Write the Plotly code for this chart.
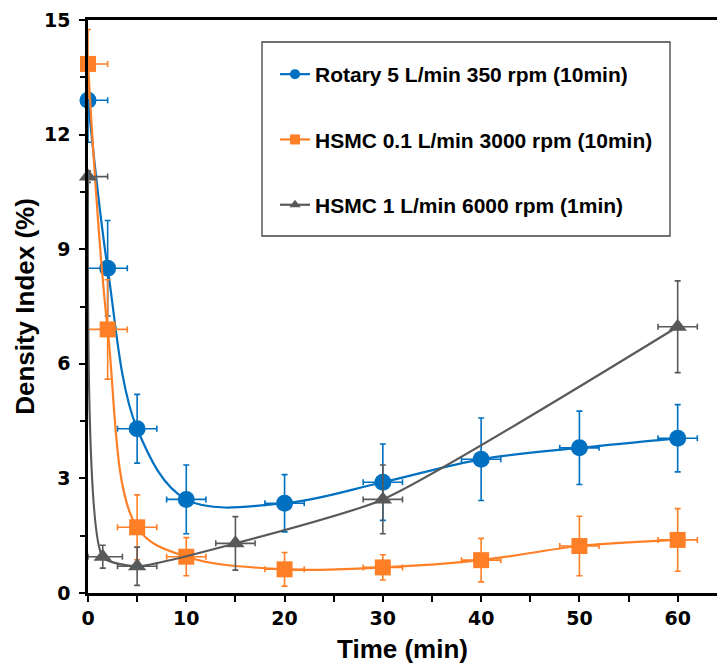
import plotly.graph_objects as go

# ---- data ----
series_names = ["Rotary 5 L/min 350 rpm (10min)",
                "HSMC 0.1 L/min 3000 rpm (10min)",
                "HSMC 1 L/min 6000 rpm (1min)"]

rot_x = [0, 2, 5, 10, 20, 30, 40, 50, 60]
rot_y = [12.9, 8.5, 4.3, 2.45, 2.35, 2.9, 3.5, 3.8, 4.05]
rot_ey = [1.1, 1.25, 0.9, 0.9, 0.75, 1.0, 1.08, 0.96, 0.88]
rot_ex_plus = [2, 2, 2, 2, 2, 2, 2, 2, 2]
rot_ex_minus = [0, 2, 2, 2, 2, 2, 2, 2, 2]

hs01_x = [0, 2, 5, 10, 20, 30, 40, 50, 60]
hs01_y = [13.85, 6.9, 1.72, 0.95, 0.62, 0.67, 0.86, 1.23, 1.39]
hs01_ey = [0.9, 1.3, 0.85, 0.5, 0.44, 0.33, 0.57, 0.78, 0.82]
hs01_ex_plus = [2, 2, 2, 2, 2, 2, 2, 2, 2]
hs01_ex_minus = [0, 2, 2, 2, 2, 2, 2, 2, 2]

hs1_x = [0, 1.5, 5, 15, 30, 60]
hs1_y = [10.9, 0.95, 0.7, 1.3, 2.45, 6.97]
hs1_ey = [0.15, 0.3, 0.5, 0.7, 0.9, 1.2]
hs1_ex_plus = [2, 2, 2, 2, 2, 2]
hs1_ex_minus = [0, 1.5, 2, 2, 2, 2]

x_ticks = [0, 10, 20, 30, 40, 50, 60]
y_ticks = [0, 3, 6, 9, 12, 15]

colors = ["#0070C0", "#FF7F27", "#595959"]
symbols = ["circle", "square", "triangle-up"]
sizes = [17, 16, 16]
smooth = [1.0, 1.0, 0.55]

fig = go.Figure()

datasets = [
    (rot_x, rot_y, rot_ey, rot_ex_plus, rot_ex_minus),
    (hs01_x, hs01_y, hs01_ey, hs01_ex_plus, hs01_ex_minus),
    (hs1_x, hs1_y, hs1_ey, hs1_ex_plus, hs1_ex_minus),
]

for i, (xs, ys, ey, exp, exm) in enumerate(datasets):
    fig.add_trace(go.Scatter(
        x=xs, y=ys, mode="lines+markers",
        line=dict(color=colors[i], width=2.2, shape="spline", smoothing=smooth[i]),
        marker=dict(color=colors[i], symbol=symbols[i], size=sizes[i]),
        error_y=dict(type="data", array=ey, color=colors[i], thickness=1.6, width=3),
        error_x=dict(type="data", array=exp, arrayminus=exm, symmetric=False,
                     color=colors[i], thickness=1.6, width=3),
        cliponaxis=False, showlegend=False,
    ))

# legend-only traces with small symbols
for i in range(3):
    fig.add_trace(go.Scatter(
        x=[None], y=[None], mode="lines+markers", name=series_names[i],
        line=dict(color=colors[i], width=2.2),
        marker=dict(color=colors[i], symbol=symbols[i], size=10),
        legendgroup=f"g{i}", showlegend=True,
    ))

L, R, T, B = 88, 0, 20, 71
W, H = 717, 664
pw, ph = W - L - R, H - T - B

def px2paper_x(px):
    return (px - L) / pw

def px2paper_y(py):
    return (H - B - py) / ph

fig.add_shape(type="rect", xref="paper", yref="paper",
              x0=px2paper_x(262), x1=px2paper_x(670),
              y0=px2paper_y(236), y1=px2paper_y(42),
              line=dict(color="#404040", width=1.3), fillcolor="rgba(0,0,0,0)",
              layer="below")

fig.update_layout(
    width=W, height=H,
    margin=dict(l=L, r=R, t=T, b=B, autoexpand=False),
    paper_bgcolor="white", plot_bgcolor="white",
    font=dict(family="Liberation Sans, Arial, sans-serif", color="black"),
    legend=dict(x=px2paper_x(275), y=px2paper_y(54), xanchor="left", yanchor="top",
                bgcolor="rgba(0,0,0,0)", borderwidth=0,
                traceorder="grouped", tracegroupgap=35,
                font=dict(family="Liberation Sans, Arial, sans-serif", size=21,
                          color="black", weight="bold")),
    xaxis=dict(range=[0, 64], tickvals=x_ticks, ticks="outside", ticklen=6, tickwidth=2,
               tickcolor="black", showline=True, linecolor="black", linewidth=2.5,
               mirror=True, showgrid=False, zeroline=False,
               minor=dict(dtick=5, ticks="outside", ticklen=6, tickwidth=2, tickcolor="black"),
               tickfont=dict(family="DejaVu Sans", size=19, weight="bold", color="black"),
               title=dict(text="Time (min)", standoff=14,
                          font=dict(family="Liberation Sans, Arial, sans-serif", size=26,
                                    weight="bold", color="black"))),
    yaxis=dict(range=[0, 15], tickvals=y_ticks, ticks="outside", ticklen=6, tickwidth=2,
               tickcolor="black", showline=True, linecolor="black", linewidth=2.5,
               showgrid=False, zeroline=False,
               minor=dict(dtick=1.5, ticks="outside", ticklen=5, tickwidth=2, tickcolor="black"),
               tickfont=dict(family="DejaVu Sans", size=19, weight="bold", color="black"),
               ticklabelstandoff=5,
               title=dict(text="Density Index (%)", standoff=2,
                          font=dict(family="Liberation Sans, Arial, sans-serif", size=26,
                                    weight="bold", color="black"))),
)

fig.write_html("out.html", config={"displayModeBar": False},
               post_script="document.body.style.margin='0';")
